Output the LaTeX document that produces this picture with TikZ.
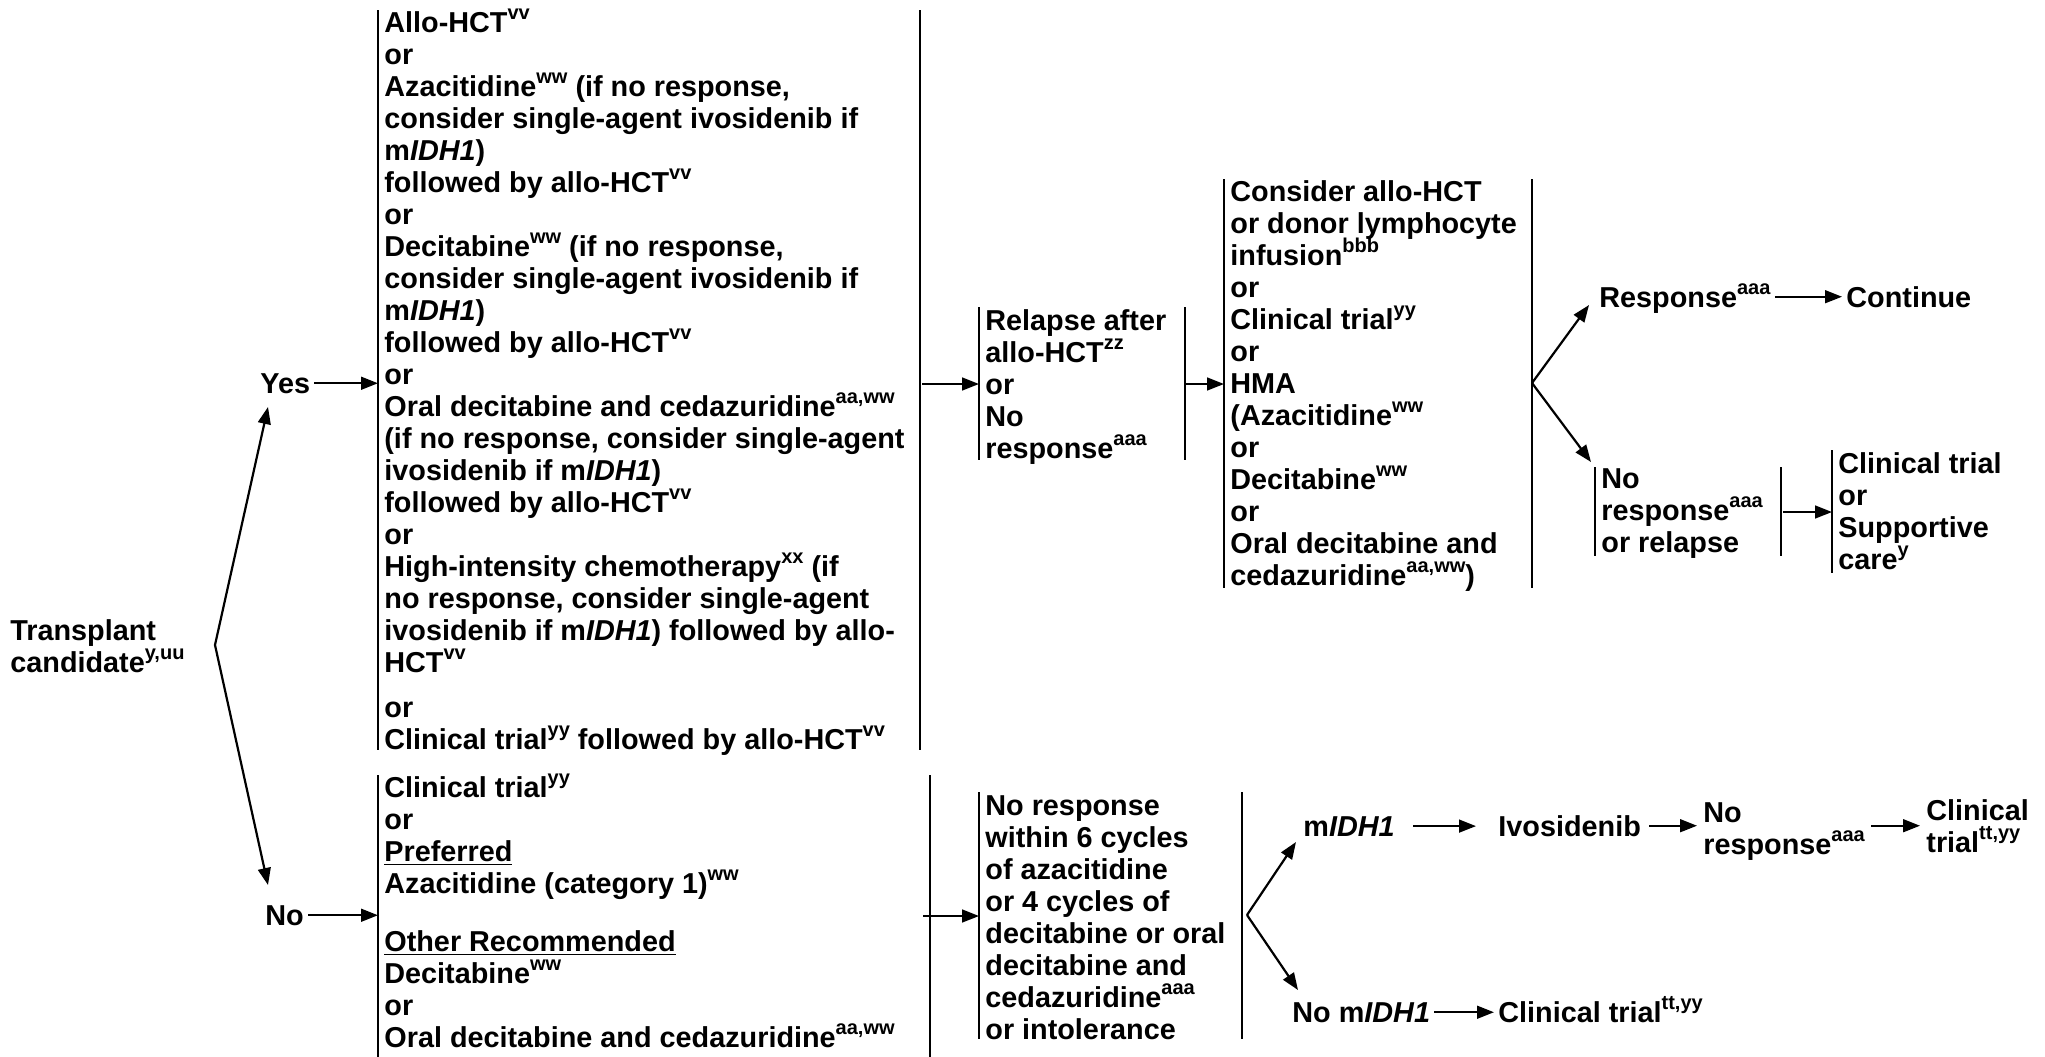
\documentclass[tikz,border=0pt]{standalone}
\usepackage{fontspec}
\setmainfont{Liberation Sans}
\usetikzlibrary{arrows.meta}
\newcommand\fs{\fontsize{14.4}{16}\selectfont\bfseries}
\newcommand\sps[1]{\raisebox{6.5pt}[0pt][0pt]{\fontsize{10}{10}\selectfont #1}}
\newcommand\idh{m\textit{IDH1}}
\begin{document}
\begin{tikzpicture}[x=0.5pt,y=-0.5pt,
  txt/.style={font=\fs, align=left, inner xsep=3pt, inner ysep=0pt, anchor=north west},
  lbl/.style={font=\fs, inner xsep=2pt, inner ysep=0pt, anchor=base west},
  arr/.style={line width=1.1pt, -{Triangle[length=8.5pt,width=6.4pt]}},
  barline/.style={line width=1.4pt}]
\useasboundingbox (0,0) rectangle (2045,1056);

% ---------- left ----------
\node[txt] (tc) at (4,617.6) {\strut Transplant\\candidate\sps{y,uu}};
\coordinate (fork1) at (215,645);
\coordinate (yesin) at (268,407);
\coordinate (noin) at (268,885);
\node[lbl] (yes) at (256,393) {Yes};
\node[lbl] (no) at (261,925) {No};

% ---------- yes branch ----------
\node[txt] (ybox) at (378,10) {\strut Allo-HCT\sps{vv}\\
or\\
Azacitidine\sps{ww} (if no response,\\
consider single-agent ivosidenib if\\
\idh)\\
followed by allo-HCT\sps{vv}\\
or\\
Decitabine\sps{ww} (if no response,\\
consider single-agent ivosidenib if\\
\idh)\\
followed by allo-HCT\sps{vv}\\
or\\
Oral decitabine and cedazuridine\sps{aa,ww}\\
(if no response, consider single-agent\\
ivosidenib if \idh)\\
followed by allo-HCT\sps{vv}\\
or\\
High-intensity chemotherapy\sps{xx} (if\\
no response, consider single-agent\\
ivosidenib if \idh) followed by allo-\\
HCT\sps{vv}\\[6.5pt]
or\\
Clinical trial\sps{yy} followed by allo-HCT\sps{vv}};
\draw[barline] (378,10) -- (378,750);
\draw[barline] (920,10) -- (920,750);
\coordinate (ybR) at (922,384);

\node[txt] (rel) at (979,307.6) {\strut Relapse after\\allo-HCT\sps{zz}\\or\\No\\response\sps{aaa}};
\draw[barline] (979,307) -- (979,460);
\draw[barline] (1185,307) -- (1185,460);
\coordinate (relR) at (1186,384);

\node[txt] (cons) at (1224,179) {\strut Consider allo-HCT\\
or donor lymphocyte\\
infusion\sps{bbb}\\
or\\
Clinical trial\sps{yy}\\
or\\
HMA\\
(Azacitidine\sps{ww}\\
or\\
Decitabine\sps{ww}\\
or\\
Oral decitabine and\\
cedazuridine\sps{aa,ww})};
\draw[barline] (1224,179) -- (1224,588);
\draw[barline] (1532,179) -- (1532,588);
\coordinate (fork3) at (1532,383);
\coordinate (resin) at (1589,305);
\coordinate (nr2in) at (1591,462);

\node[lbl] (resp) at (1595,307) {Response\sps{aaa}};
\node[lbl] (cont) at (1842,307) {Continue};

\node[txt] (nr2) at (1595,465.6) {\strut No\\response\sps{aaa}\\or relapse};
\draw[barline] (1595,467) -- (1595,556);
\draw[barline] (1781,467) -- (1781,556);
\coordinate (nr2R) at (1783,512);

\node[txt] (ct) at (1832,450.6) {\strut Clinical trial\\or\\Supportive\\care\sps{y}};
\draw[barline] (1832,450) -- (1832,573);

% ---------- no branch ----------
\node[txt] (nbox) at (378,775) {\strut Clinical trial\sps{yy}\\
or\\
\underline{Preferred}\\
Azacitidine (category 1)\sps{ww}\\[13pt]
\underline{Other Recommended}\\
Decitabine\sps{ww}\\
or\\
Oral decitabine and cedazuridine\sps{aa,ww}};
\draw[barline] (378,775) -- (378,1062);
\draw[barline] (930,775) -- (930,1062);
\coordinate (nbR) at (923,916);

\node[txt] (nrb) at (979,792.6) {\strut No response\\
within 6 cycles\\
of azacitidine\\
or 4 cycles of\\
decitabine or oral\\
decitabine and\\
cedazuridine\sps{aaa}\\
or intolerance};
\draw[barline] (979,792) -- (979,1039);
\draw[barline] (1242,792) -- (1242,1039);
\coordinate (fork2) at (1247,915);
\coordinate (midin) at (1296,842);
\coordinate (nomin) at (1298,990);

\node[lbl] (midh) at (1299,836) {\idh};
\node[lbl] (ivo) at (1494,836) {Ivosidenib};
\node[txt] (nrsp) at (1697,799.6) {\strut No\\response\sps{aaa}};
\node[txt] (ctr) at (1920,797.6) {\strut Clinical\\trial\sps{tt,yy}};
\node[lbl] (nomidh) at (1288,1022) {No \idh};
\node[lbl] (ct2) at (1494,1022) {Clinical trial\sps{tt,yy}};

% ---------- connectors ----------
\draw[arr] (fork1) -- (yesin);
\draw[arr] (fork1) -- (noin);
\draw[arr] (yes.east) -- (yes.east -| ybox.west);
\draw[arr] (no.east) -- (no.east -| nbox.west);
\draw[arr] (ybR) -- (ybR -| rel.west);
\draw[arr] (relR) -- (relR -| cons.west);
\draw[arr] (fork3) -- (resin);
\draw[arr] (fork3) -- (nr2in);
\draw[arr] (resp.east |- cont.west) -- (cont.west);
\draw[arr] (nr2R) -- (nr2R -| ct.west);
\draw[arr] (nbR) -- (nbR -| nrb.west);
\draw[arr] (fork2) -- (midin);
\draw[arr] (fork2) -- (nomin);
\draw[arr, shorten <=7pt, shorten >=9pt] (midh.east) -- (midh.east -| ivo.west);
\draw[arr, shorten <=2pt] (ivo.east) -- (ivo.east -| nrsp.west);
\draw[arr] (nrsp.east |- ivo.east) -- (ivo.east -| ctr.west);
\draw[arr] (nomidh.east) -- (nomidh.east -| ct2.west);
\end{tikzpicture}
\end{document}
